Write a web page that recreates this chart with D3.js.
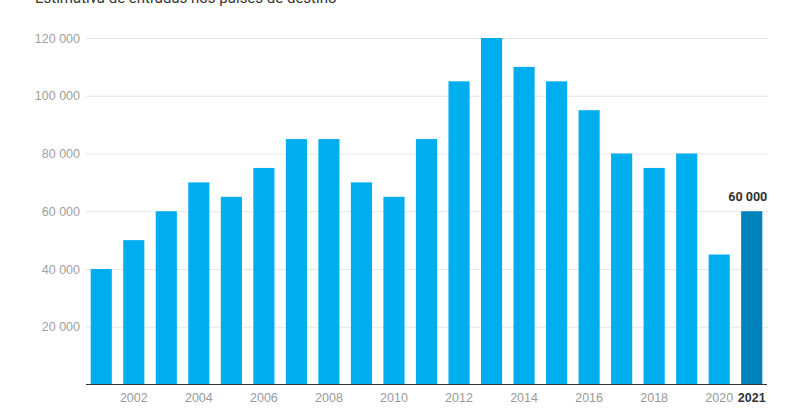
<!DOCTYPE html>
<html>
<head>
<meta charset="utf-8">
<script src="https://cdn.jsdelivr.net/npm/d3@7"></script>
<style>
  body { margin: 0; background: #fff; }
  svg { font-family: Roboto, "Noto Sans", sans-serif; display: block; }
</style>
</head>
<body>
<div id="chart"></div>
<script>
// data
let years = [2001, 2002, 2003, 2004, 2005, 2006, 2007, 2008, 2009, 2010, 2011,
             2012, 2013, 2014, 2015, 2016, 2017, 2018, 2019, 2020, 2021];
let entries = [40000, 50000, 60000, 70000, 65000, 75000, 85000, 85000, 70000, 65000, 85000,
               105000, 120000, 110000, 105000, 95000, 80000, 75000, 80000, 45000, 60000];
let yTicks = [20000, 40000, 60000, 80000, 100000, 120000];
let xTickYears = [2002, 2004, 2006, 2008, 2010, 2012, 2014, 2016, 2018, 2020, 2021];
let title = 'Estimativa de entradas nos países de destino';

let width = 800, height = 418;
let margin = {top: 38, right: 32, bottom: 33.5, left: 85};
let innerWidth = width - margin.left - margin.right;
let innerHeight = height - margin.top - margin.bottom;

let data = years.map((y, i) => ({year: y, value: entries[i]}));
let last = years[years.length - 1];

let fmt = v => d3.format(',')(v).replace(/,/g, ' ');

let svg = d3.select('#chart').append('svg')
  .attr('width', width)
  .attr('height', height);

// title sits mostly above the visible area, as in the source
svg.append('text')
  .attr('x', 35)
  .attr('y', 3)
  .attr('fill', '#333')
  .style('font-size', '15px')
  .text(title);

let g = svg.append('g')
  .attr('transform', 'translate(' + margin.left + ',' + margin.top + ')');

let xScale = d3.scaleBand()
  .domain(years)
  .range([0, innerWidth])
  .paddingInner(0.35)
  .paddingOuter(0.175);

let yScale = d3.scaleLinear()
  .domain([0, 120000])
  .range([innerHeight, 0]);

// gridlines + y labels
let yAxis = d3.axisLeft(yScale)
  .tickValues(yTicks)
  .tickSize(-(innerWidth - 1))
  .tickPadding(6)
  .tickFormat(fmt);

g.append('g')
  .attr('class', 'y-axis')
  .attr('transform', 'translate(1,0)')
  .call(yAxis)
  .call(s => s.select('.domain').remove())
  .call(s => s.selectAll('line').attr('stroke', '#e6e6e6'))
  .call(s => s.selectAll('text').attr('fill', '#a0a0a0').style('font-size', '12.5px'));

// bars
g.selectAll('.bar')
  .data(data)
  .join('rect')
  .attr('class', 'bar')
  .attr('x', d => xScale(d.year))
  .attr('y', d => yScale(d.value))
  .attr('width', xScale.bandwidth())
  .attr('height', d => yScale(0) - yScale(d.value))
  .attr('fill', d => d.year === last ? '#0082bb' : '#00aeef');

// x axis
let xAxis = d3.axisBottom(xScale)
  .tickValues(xTickYears)
  .tickSize(0)
  .tickPadding(9);

g.append('g')
  .attr('class', 'x-axis')
  .attr('transform', 'translate(0,' + innerHeight + ')')
  .call(xAxis)
  .call(s => s.select('.domain').attr('stroke', '#333').attr('d', 'M1,0H' + (innerWidth - 1)))
  .call(s => s.selectAll('text')
    .style('font-size', '12.5px')
    .attr('fill', d => d === last ? '#333' : '#999')
    .style('font-weight', d => d === last ? 'bold' : 'normal'));

// value label for the last bar
let lastD = data[data.length - 1];
g.append('text')
  .attr('x', xScale(lastD.year) + xScale.bandwidth() + 5)
  .attr('y', yScale(lastD.value) - 10)
  .attr('text-anchor', 'end')
  .attr('fill', '#333')
  .style('font-size', '12.5px')
  .style('font-weight', 'bold')
  .text(fmt(lastD.value));
</script>
</body>
</html>
